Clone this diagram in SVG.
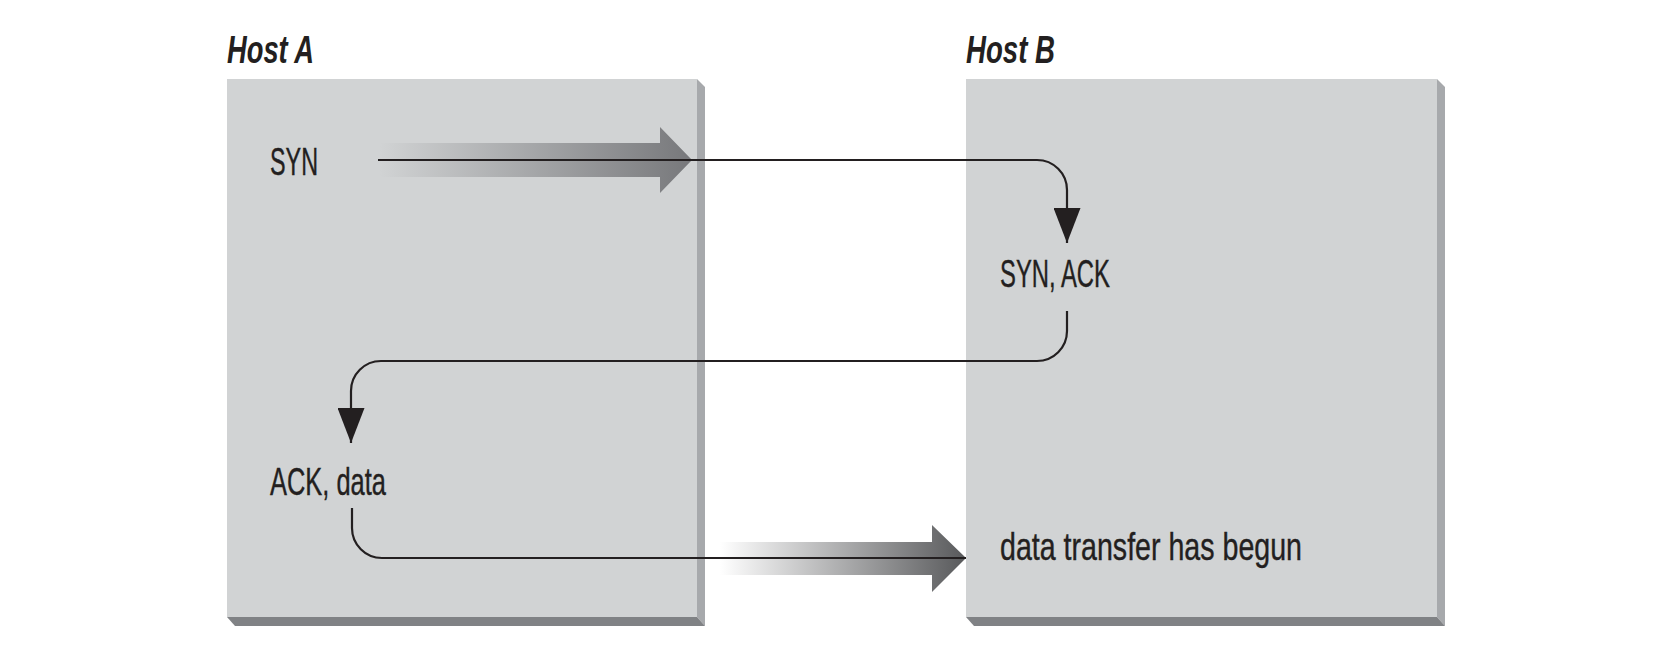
<svg xmlns="http://www.w3.org/2000/svg" width="1660" height="646" viewBox="0 0 1660 646">
<style>
.face{fill:#d1d3d4}
.side{fill:#a7a9ac}
.bottom{fill:#808285}
.lbl{font-family:"Liberation Sans",Arial,sans-serif;font-size:39px;fill:#231f20;stroke:#231f20;stroke-width:0.4}
.host{font-family:"Liberation Sans",Arial,sans-serif;font-size:39px;font-weight:bold;font-style:italic;fill:#231f20}
.conn{fill:none;stroke:#231f20;stroke-width:2.2}
</style>
<defs>
<marker id="ah" markerUnits="userSpaceOnUse" viewBox="0 0 35 27" markerWidth="35" markerHeight="27" refX="35" refY="13.5" orient="auto">
<path d="M0,0 L35,13.5 L0,27 z" fill="#231f20"/>
</marker>
<linearGradient id="g1" gradientUnits="userSpaceOnUse" x1="380" y1="0" x2="692" y2="0">
<stop offset="0" stop-color="#d1d3d4"/>
<stop offset="1" stop-color="#77787b"/>
</linearGradient>
<linearGradient id="g2" gradientUnits="userSpaceOnUse" x1="720" y1="0" x2="966" y2="0">
<stop offset="0" stop-color="#ffffff"/>
<stop offset="1" stop-color="#58595b"/>
</linearGradient>
</defs>
<rect width="1660" height="646" fill="#ffffff"/>
<g id="hostA">
<rect class="face" x="227" y="79" width="470" height="538"/>
<polygon class="side" points="697,79 705,87 705,626 697,617"/>
<polygon class="bottom" points="227,617 697,617 705,626 235,626"/>
<text class="host" x="227" y="63" textLength="87" lengthAdjust="spacingAndGlyphs">Host A</text>
</g>
<g id="hostB">
<rect class="face" x="966" y="79" width="471" height="538"/>
<polygon class="side" points="1437,79 1445,87 1445,626 1437,617"/>
<polygon class="bottom" points="966,617 1437,617 1445,626 974,626"/>
<text class="host" x="966" y="63" textLength="89" lengthAdjust="spacingAndGlyphs">Host B</text>
</g>
<g id="syn">
<text class="lbl" x="270" y="175" textLength="48" lengthAdjust="spacingAndGlyphs">SYN</text>
</g>
<g id="synack">
<text class="lbl" x="1000" y="287" textLength="110" lengthAdjust="spacingAndGlyphs">SYN, ACK</text>
</g>
<g id="ackdata">
<text class="lbl" x="270" y="495" textLength="116" lengthAdjust="spacingAndGlyphs">ACK, data</text>
</g>
<g id="transfer">
<text class="lbl" x="1000" y="560" textLength="302" lengthAdjust="spacingAndGlyphs">data transfer has begun</text>
</g>
<g id="connectors">
<polygon points="380,143 660,143 660,127 692,160 660,193 660,177 380,177" fill="url(#g1)"/>
<polygon points="720,542 932,542 932,525 966,558 932,592 932,575 720,575" fill="url(#g2)"/>
<path class="conn" d="M378,160 H1037 A30,30 0 0 1 1067,190 V243" marker-end="url(#ah)"/>
<path class="conn" d="M1067,311 V331 A30,30 0 0 1 1037,361 H381 A30,30 0 0 0 351,391 V443" marker-end="url(#ah)"/>
<path class="conn" d="M352,508 V528 A30,30 0 0 0 382,558 H966"/>
</g>
</svg>
